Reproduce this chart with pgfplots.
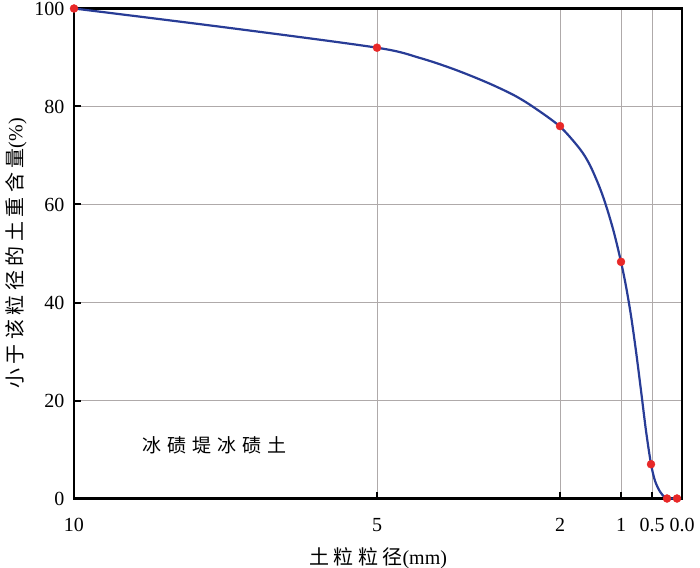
\documentclass[border=0pt]{standalone}
\usepackage{fontspec}
\setmainfont{Liberation Serif}
\newfontfamily\cjk{Noto Sans CJK SC}
\usepackage{pgfplots}
\pgfplotsset{compat=1.18}
\definecolor{curveblue}{RGB}{40,60,150}
\definecolor{ptred}{RGB}{232,40,40}
\definecolor{gridgray}{RGB}{175,170,170}
\newcommand{\csp}{\hspace{4.5pt}}
\begin{document}
\begin{tikzpicture}
\useasboundingbox (-74pt,-69pt) rectangle (626pt,498.5pt);
\begin{axis}[
  at={(0pt,0pt)}, anchor=south west,
  scale only axis,
  width=608pt, height=490pt,
  xmin=0, xmax=608, ymin=0, ymax=100,
  xtick={0,303,486,547,578,608},
  xticklabels={10,5,2,1,0.5,0.0},
  ytick={0,20,40,60,80,100},
  tick pos=left,
  tick align=inside,
  major tick length=7pt,
  every tick/.style={black, line width=2pt},
  axis line style={black, line width=2.4pt},
  grid=major,
  grid style={gridgray, line width=1pt},
  tick label style={font=\fontsize{20}{22}\selectfont},
  /pgf/number format/assume math mode=true,
  xticklabel style={yshift=-16pt},
  yticklabel style={xshift=-6pt},
  xlabel={{\cjk 土\csp 粒\csp 粒\csp 径}(mm)},
  ylabel={{\cjk 小\csp 于\csp 该\csp 粒\csp 径\csp 的\csp 土\csp 重\csp 含\csp 量}(\%)},
  label style={font=\fontsize{20}{22}\selectfont},
  xlabel style={yshift=-9pt},
  ylabel style={yshift=1pt},
  clip=false,
]
\addplot[curveblue, line width=2.2pt, smooth, tension=0.5] coordinates {
  (0,100) (153,96.1) (303,92) (346,89.9) (380,87.6) (413,84.9) (440,82.3)
  (460,79.8) (486,75.9) (506,71.3) (516,68.0) (526,63.3) (533,59.15)
  (540,54.25) (547,48.3) (552,43.3) (557,37.3) (562,30.05) (567,22.05)
  (572,13.8) (577,7.05) (581,3.6) (586,1.4) (591,0.2) (595,0) (603,0)
};
\addplot[only marks, mark=*, mark size=4pt, ptred, draw=none] coordinates {
  (0,100) (303,92) (486,76) (547,48.3) (577,7) (593,0) (603,0)
};
\node[anchor=west, font=\cjk\fontsize{19}{21}\selectfont] at (axis cs:65,10.8) {冰\hspace{6pt}碛\hspace{6pt}堤\hspace{6pt}冰\hspace{6pt}碛\hspace{6pt}土};
\end{axis}
\end{tikzpicture}
\end{document}
